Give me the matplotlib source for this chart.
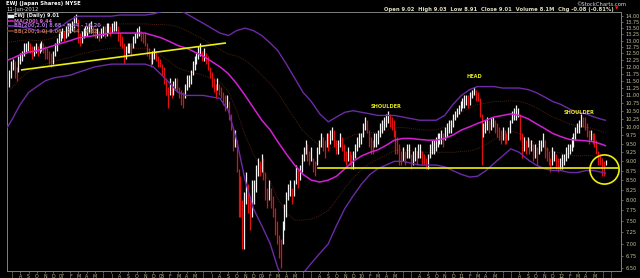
import numpy as np
import pandas as pd
import matplotlib
matplotlib.use("Agg")
import matplotlib.pyplot as plt
import matplotlib.dates as mdates
from matplotlib.lines import Line2D
from matplotlib.ticker import FixedLocator, NullLocator, NullFormatter

# weekly lows / highs (week starting monday), 19-Jun-2006 .. 11-Jun-2012
lo_2006 = [11.3, 11.6, 11.9, 11.6, 11.5, 11.8, 12.1, 12.2, 12.4, 12.5, 12.6, 12.5, 12.3, 12.4,
           12.5, 12.4, 12.5, 12.6, 12.5, 12.3, 12.3, 12.1, 12.0, 12.1, 12.4, 12.6, 12.9, 13.0]
hi_2006 = [11.9, 12.2, 12.3, 12.2, 12.0, 12.4, 12.5, 12.6, 12.9, 12.9, 13.0, 12.9, 12.8, 12.8,
           12.9, 12.8, 12.9, 13.0, 12.9, 12.8, 12.7, 12.6, 12.5, 12.6, 12.9, 13.1, 13.3, 13.4]
lo_2007 = [13.1, 13.0, 13.1, 13.2, 13.3, 13.4, 13.5, 13.7, 12.9, 12.8, 12.9, 13.1, 13.2,
           13.2, 13.3, 13.3, 13.2, 13.1, 13.1, 13.0, 13.1, 13.2, 13.1, 13.2, 13.3, 13.2,
           13.3, 13.4, 13.4, 13.0, 12.8, 12.7, 12.1, 12.3, 12.5, 12.5, 12.4, 12.7, 12.9,
           13.1, 13.2, 13.0, 12.9, 12.8, 12.4, 12.3, 12.0, 12.1, 12.3, 12.2, 12.0, 12.0, 11.7]
hi_2007 = [13.5, 13.4, 13.6, 13.7, 13.7, 13.8, 14.0, 14.1, 13.9, 13.3, 13.4, 13.5, 13.6,
           13.6, 13.7, 13.8, 13.6, 13.5, 13.5, 13.4, 13.5, 13.6, 13.6, 13.7, 13.7, 13.6,
           13.7, 13.8, 13.8, 13.6, 13.3, 13.2, 12.9, 12.8, 12.9, 12.9, 12.9, 13.2, 13.3,
           13.5, 13.6, 13.4, 13.3, 13.3, 12.9, 12.7, 12.5, 12.6, 12.7, 12.6, 12.4, 12.3, 12.1]
lo_2008 = [11.4, 11.0, 10.6, 11.0, 10.9, 11.0, 11.2, 11.1, 10.9, 10.7, 10.6, 10.9, 11.2,
           11.3, 11.4, 11.7, 11.9, 12.1, 12.3, 12.4, 12.2, 12.2, 12.1, 11.9, 11.6, 11.3,
           11.1, 10.9, 11.2, 11.0, 10.9, 10.7, 10.5, 10.6, 10.2, 9.9, 9.3, 9.4, 8.7,
           7.6, 7.6, 6.9, 6.9, 7.9, 7.7, 7.3, 7.6, 7.9, 8.2, 8.6, 8.6, 8.7]
hi_2008 = [12.0, 11.6, 11.3, 11.6, 11.4, 11.5, 11.6, 11.6, 11.3, 11.2, 11.1, 11.4, 11.7,
           11.7, 11.9, 12.2, 12.4, 12.5, 12.8, 12.9, 12.6, 12.7, 12.5, 12.4, 12.0, 11.8,
           11.6, 11.4, 11.6, 11.4, 11.3, 11.1, 11.0, 11.0, 10.8, 10.4, 10.0, 9.9, 9.6,
           8.8, 8.6, 8.0, 8.2, 8.7, 8.4, 8.1, 8.5, 8.5, 8.9, 9.1, 9.0, 9.2]
lo_2009 = [8.5, 8.0, 7.8, 8.0, 7.8, 7.6, 7.2, 7.0, 6.7, 6.5, 7.0, 7.3, 7.6,
           8.0, 8.1, 7.9, 8.1, 8.4, 8.3, 8.5, 8.7, 9.0, 9.2, 9.0, 8.9, 9.0,
           8.7, 8.6, 8.9, 9.2, 9.4, 9.3, 9.1, 9.4, 9.3, 9.5, 9.6, 9.4, 9.2,
           9.2, 9.4, 9.3, 9.0, 8.9, 9.0, 8.9, 8.8, 8.8, 9.1, 9.3, 9.4, 9.5]
hi_2009 = [9.1, 8.7, 8.3, 8.5, 8.3, 8.1, 7.8, 7.5, 7.2, 7.1, 7.5, 7.9, 8.2,
           8.4, 8.5, 8.3, 8.5, 8.9, 8.8, 8.9, 9.2, 9.4, 9.6, 9.5, 9.3, 9.4,
           9.1, 9.0, 9.4, 9.6, 9.8, 9.7, 9.6, 9.8, 9.8, 9.9, 10.0, 9.9, 9.6,
           9.6, 9.8, 9.7, 9.5, 9.3, 9.4, 9.3, 9.2, 9.3, 9.5, 9.7, 9.8, 9.8]
lo_2010 = [9.7, 9.9, 9.8, 9.4, 9.2, 9.2, 9.4, 9.4, 9.5, 9.7, 9.8, 9.9, 10.0,
           10.1, 10.0, 9.9, 9.7, 9.2, 9.2, 8.9, 8.9, 9.0, 8.9, 9.1, 9.1, 8.8,
           8.9, 9.0, 8.9, 9.1, 9.1, 8.9, 8.9, 8.8, 8.8, 9.1, 9.2, 9.2, 9.3,
           9.4, 9.5, 9.5, 9.4, 9.6, 9.7, 9.8, 9.8, 10.0, 10.2, 10.3, 10.4, 10.5]
hi_2010 = [10.1, 10.3, 10.2, 9.9, 9.7, 9.6, 9.8, 9.8, 9.9, 10.1, 10.2, 10.3, 10.4,
           10.5, 10.4, 10.3, 10.2, 9.9, 9.7, 9.5, 9.3, 9.4, 9.3, 9.5, 9.5, 9.2,
           9.3, 9.4, 9.3, 9.5, 9.5, 9.3, 9.2, 9.1, 9.2, 9.5, 9.6, 9.6, 9.7,
           9.8, 9.8, 9.9, 9.8, 10.0, 10.1, 10.2, 10.2, 10.4, 10.5, 10.6, 10.7, 10.8]
lo_2011 = [10.6, 10.6, 10.7, 10.6, 10.7, 10.9, 11.0, 10.8, 10.8, 10.3, 8.9, 9.7, 9.8,
           9.9, 9.8, 9.9, 10.0, 9.8, 9.7, 9.6, 9.5, 9.6, 9.5, 9.5, 9.6, 9.8,
           10.1, 10.2, 10.2, 10.3, 9.6, 9.1, 9.3, 9.2, 9.4, 9.2, 9.3, 9.0, 9.1,
           8.9, 9.2, 9.3, 9.4, 9.1, 9.0, 8.9, 8.7, 8.9, 9.0, 8.8, 8.7, 8.8]
hi_2011 = [10.9, 11.0, 11.0, 11.0, 11.1, 11.2, 11.3, 11.2, 11.1, 10.9, 10.4, 10.1, 10.2,
           10.3, 10.2, 10.3, 10.3, 10.2, 10.1, 10.0, 9.9, 10.0, 9.9, 9.8, 10.0, 10.2,
           10.5, 10.6, 10.7, 10.6, 10.4, 9.8, 9.7, 9.6, 9.7, 9.6, 9.6, 9.5, 9.5,
           9.4, 9.6, 9.6, 9.8, 9.6, 9.4, 9.3, 9.1, 9.4, 9.3, 9.2, 9.1, 9.1]
lo_2012 = [8.8, 8.9, 9.0, 9.1, 9.2, 9.3, 9.4, 9.6, 9.8, 9.8, 10.0, 10.0, 9.9,
           9.7, 9.5, 9.6, 9.5, 9.4, 9.2, 8.9, 8.9, 8.6, 8.6, 8.91]
hi_2012 = [9.2, 9.2, 9.4, 9.5, 9.5, 9.7, 9.8, 10.0, 10.1, 10.2, 10.4, 10.3, 10.3,
           10.1, 9.9, 9.9, 9.8, 9.8, 9.6, 9.3, 9.2, 9.1, 9.0, 9.03]

# overlays, one value per month start (Jun-2006 .. Jun-2012) + last bar
ma200 = [12.2, 12.3, 12.45, 12.55, 12.6, 12.7, 12.8,
         12.9, 13.0, 13.1, 13.15, 13.2, 13.25, 13.3, 13.3, 13.3, 13.3, 13.3, 13.2,
         13.1, 12.95, 12.8, 12.7, 12.55, 12.4, 12.2, 12.0, 11.75, 11.4, 11.0, 10.6,
         10.2, 9.9, 9.55, 9.2, 8.9, 8.65, 8.5, 8.45, 8.5, 8.6, 8.8, 9.0,
         9.15, 9.25, 9.32, 9.45, 9.6, 9.65, 9.65, 9.62, 9.6, 9.6, 9.65, 9.75,
         9.9, 10.0, 10.1, 10.2, 10.3, 10.35, 10.4, 10.35, 10.25, 10.1, 9.95, 9.8,
         9.7, 9.62, 9.6, 9.58, 9.55, 9.47, 9.44]
bb_upper = [13.6, 13.6, 13.55, 13.5, 13.4, 13.35, 13.4,
            13.6, 13.85, 14.0, 14.0, 14.0, 14.0, 14.0, 14.05, 14.05, 14.05, 14.05, 14.1,
            14.2, 14.3, 14.3, 14.1, 13.9, 13.7, 13.5, 13.3, 13.2, 13.4, 13.5, 13.4,
            13.2, 12.9, 12.6, 12.1, 11.6, 11.1, 10.8, 10.4, 10.15, 10.3, 10.45, 10.5,
            10.45, 10.4, 10.35, 10.35, 10.35, 10.3, 10.25, 10.2, 10.2, 10.2, 10.35, 10.7,
            11.0, 11.2, 11.3, 11.3, 11.3, 11.25, 11.25, 11.25, 11.2, 11.1, 10.95, 10.8,
            10.7, 10.55, 10.45, 10.4, 10.3, 10.22, 10.20]
bb_lower = [9.8, 10.2, 10.7, 11.1, 11.3, 11.5, 11.6,
            11.65, 11.7, 11.8, 11.9, 12.0, 12.05, 12.1, 12.1, 12.1, 12.1, 12.1, 12.0,
            11.7, 11.4, 11.1, 11.0, 11.0, 11.0, 10.95, 10.9, 10.5, 9.6, 8.5, 7.8,
            7.4, 7.0, 6.5, 6.2, 6.15, 6.4, 6.6, 6.8, 7.0, 7.4, 7.8, 8.1,
            8.4, 8.65, 8.8, 8.9, 9.0, 9.0, 8.95, 8.9, 8.9, 8.9, 8.85, 8.75,
            8.65, 8.58, 8.6, 8.75, 8.95, 9.15, 9.35, 9.25, 9.05, 8.9, 8.8, 8.75,
            8.75, 8.7, 8.7, 8.75, 8.75, 8.7, 8.68]

y_ticks = np.arange(6.5, 14.01, 0.25)

lows = np.array(lo_2006 + lo_2007 + lo_2008 + lo_2009 + lo_2010 + lo_2011 + lo_2012)
highs = np.array(hi_2006 + hi_2007 + hi_2008 + hi_2009 + hi_2010 + hi_2011 + hi_2012)
weeks = pd.date_range(end="2012-06-11", periods=len(lows), freq="W-MON")
band_dates = list(pd.date_range("2006-06-01", "2012-06-01", freq="MS")) + [pd.Timestamp("2012-06-11")]
ma200 = np.array(ma200)
bb_upper = np.array(bb_upper)
bb_lower = np.array(bb_lower)

W, H = 640, 278
def fx(px):
    return px / W
def fy(py):
    return 1 - py / H

fig = plt.figure(figsize=(6.4, 2.78), dpi=100, facecolor="black")
ax = fig.add_axes([fx(7), fy(271), fx(621) - fx(7), fy(12) - fy(271)], facecolor="black")
ax.set_yscale("log")

# price bars
mid = (lows + highs) / 2
up = np.r_[True, mid[1:] >= mid[:-1]]
cols = np.where(up, "#f2f2f2", "#e31010")
xb = mdates.date2num(weeks + pd.Timedelta(days=2))
ax.vlines(xb, lows, highs, colors=cols, linewidth=0.9, zorder=3)

# bollinger / MA overlays
xd = mdates.date2num(band_dates)
purple = "#6c2aa6"
brown = "#4a200e"
ax.plot(xd, bb_upper, color=purple, lw=1.0, zorder=4)
ax.plot(xd, bb_lower, color=purple, lw=1.0, zorder=4)
ax.plot(xd, (ma200 + bb_upper) / 2, color=brown, lw=0.7, ls=(0, (1, 1)), zorder=2)
ax.plot(xd, (ma200 + bb_lower) / 2, color=brown, lw=0.7, ls=(0, (1, 1)), zorder=2)
ax.plot(xd, ma200, color="#d41fd4", lw=1.1, zorder=5)

# trend lines and annotations
yellow = "#eeee10"
ax.plot(mdates.date2num([pd.Timestamp("2006-08-07"), pd.Timestamp("2008-08-20")]),
        [11.89, 12.90], color=yellow, lw=1.2, zorder=6)
ax.plot(mdates.date2num([pd.Timestamp("2009-07-24"), pd.Timestamp("2012-07-27")]),
        [8.82, 8.82], color=yellow, lw=1.2, zorder=6)
ax.plot([mdates.date2num(pd.Timestamp("2012-06-06"))], [8.79], marker="o", ms=21,
        mfc="none", mec=yellow, mew=1.2, zorder=7)
lab = dict(color="#e8e820", fontsize=3.6, fontweight="bold", ha="center", va="center", zorder=8)
ax.text(mdates.date2num(pd.Timestamp("2010-04-01")), 10.62, "SHOULDER", **lab)
ax.text(mdates.date2num(pd.Timestamp("2011-02-17")), 11.64, "HEAD", **lab)
ax.text(mdates.date2num(pd.Timestamp("2012-03-05")), 10.43, "SHOULDER", **lab)

# axes
ax.set_xlim(mdates.date2num(pd.Timestamp("2006-06-14")), mdates.date2num(pd.Timestamp("2012-08-07")))
ax.set_ylim(6.446, 14.18)
ax.yaxis.tick_right()
ax.yaxis.set_major_locator(FixedLocator(y_ticks))
ax.yaxis.set_minor_locator(NullLocator())
ax.yaxis.set_minor_formatter(NullFormatter())
ax.set_yticklabels(["%.2f" % v for v in y_ticks])
ax.tick_params(axis="y", colors="#888888", labelcolor="#c8c4a0", labelsize=3.6, length=1.5,
               width=0.5, pad=1.5)

months = pd.date_range("2006-07-01", "2012-07-01", freq="MS")
mlabels = [("%02d" % (m.year % 100)) if m.month == 1 else "JFMAMJJASOND"[m.month - 1] for m in months]
ax.set_xticks(mdates.date2num(months))
ax.set_xticklabels(mlabels)
ax.tick_params(axis="x", colors="#888888", labelcolor="#c0b880", labelsize=3.4, length=1.2,
               width=0.5, pad=0.8)
for s in ax.spines.values():
    s.set_color("#808080")
    s.set_linewidth(0.7)

# header
hdr = dict(fontsize=3.8, va="center")
fig.text(fx(6), fy(4), "EWJ (Japan Shares) NYSE", color="white", fontweight="bold", **hdr)
fig.text(fx(6), fy(10), "11-Jun-2012", color="#dddddd", **hdr)
fig.text(fx(626), fy(4), "\u00a9StockCharts.com", color="#dddddd", ha="right", **hdr)
fig.text(fx(614), fy(9), "Open 9.02  High 9.03  Low 8.91  Close 9.01  Volume 8.1M  Chg -0.08 (-0.81%)",
         color="#e0dcc0", ha="right", fontweight="bold", **hdr)
fig.text(fx(615), fy(9), "\u25bc", color="#ff2020", fontsize=3.2, va="center")

# legend inside plot
leg = [("EWJ (Daily) 9.01", "#f0f0f0", None),
       ("MA(200) 9.44", "#e060e0", "#d41fd4"),
       ("BB(200,2.0) 8.68 - 9.44 - 10.20", "#a070d0", purple),
       ("BB(200,1.0) 9.06 - 9.44 - 9.82", "#b07050", "#7a3a18")]
for i, (txt, tc, lc) in enumerate(leg):
    yy = 16 + 5 * i
    if lc is None:
        fig.add_artist(Line2D([fx(9), fx(12)], [fy(yy), fy(yy)], color="#f0f0f0", lw=2.5))
    else:
        fig.add_artist(Line2D([fx(8), fx(13)], [fy(yy), fy(yy)], color=lc, lw=1.2))
    fig.text(fx(14), fy(yy), txt, color=tc, fontsize=3.6, va="center", fontweight="bold")

fig.savefig("out.png", dpi=100, facecolor="black")
